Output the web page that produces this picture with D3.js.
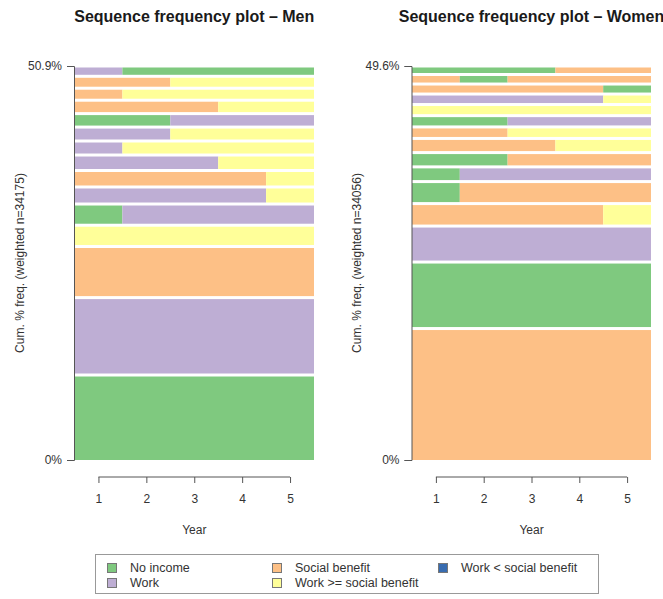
<!DOCTYPE html>
<html>
<head>
<meta charset="utf-8">
<script src="https://cdn.jsdelivr.net/npm/d3@7"></script>
<style>
  body { margin: 0; background: #fff; }
  svg { display: block; font-family: "Liberation Sans", Arial, Helvetica, sans-serif; }
</style>
</head>
<body>
<script>
var years = [1, 2, 3, 4, 5];
var stateCodes = ["NI", "W", "SB", "WS", "WL"];
var stateLabels = ["No income", "Work", "Social benefit", "Work >= social benefit", "Work < social benefit"];
var stateColors = ["#7fc97f", "#beaed4", "#fdc086", "#ffff99", "#386cb0"];

// sequences sorted by frequency, most frequent first (drawn bottom up)
var menSeqs = [
  "NI-NI-NI-NI-NI",
  "W-W-W-W-W",
  "SB-SB-SB-SB-SB",
  "WS-WS-WS-WS-WS",
  "NI-W-W-W-W",
  "W-W-W-W-WS",
  "SB-SB-SB-SB-WS",
  "W-W-W-WS-WS",
  "W-WS-WS-WS-WS",
  "W-W-WS-WS-WS",
  "NI-NI-W-W-W",
  "SB-SB-SB-WS-WS",
  "SB-WS-WS-WS-WS",
  "SB-SB-WS-WS-WS",
  "W-NI-NI-NI-NI",
];
var menFreq = [10.98, 10.0, 6.6, 2.75, 2.74, 2.2, 2.13, 2.0, 1.81, 1.8, 1.74, 1.73, 1.55, 1.54, 1.33];
var menN = 34175;

var womenSeqs = [
  "SB-SB-SB-SB-SB",
  "NI-NI-NI-NI-NI",
  "W-W-W-W-W",
  "SB-SB-SB-SB-WS",
  "NI-SB-SB-SB-SB",
  "NI-W-W-W-W",
  "NI-NI-SB-SB-SB",
  "SB-SB-SB-WS-WS",
  "SB-SB-WS-WS-WS",
  "NI-NI-W-W-W",
  "WS-WS-WS-WS-WS",
  "W-W-W-W-WS",
  "SB-SB-SB-SB-NI",
  "SB-NI-SB-SB-SB",
  "NI-NI-NI-SB-SB",
];
var womenFreq = [16.55, 8.37, 4.53, 2.83, 2.77, 1.85, 1.8, 1.78, 1.45, 1.42, 1.4, 1.32, 1.26, 1.2, 1.07];
var womenN = 34056;

var W = 663, H = 599;
var plotTop = 66, plotBottom = 460;
var textColor = "#333";

var svg = d3.select("body").append("svg")
  .attr("width", W)
  .attr("height", H);

var colorOf = d3.scaleOrdinal().domain(stateCodes).range(stateColors);

function drawPanel(title, seqs, freq, n, left, right, labelX) {
  var total = d3.sum(freq);
  var x = d3.scaleLinear().domain([years[0] - 0.5, years[years.length - 1] + 0.5]).range([left, right]);
  var y = d3.scaleLinear().domain([0, total]).range([plotBottom, plotTop]);
  var g = svg.append("g");

  var cum = 0;
  seqs.forEach(function(s, i) {
    var states = s.split("-");
    var y0 = y(cum);
    var y1 = y(cum + freq[i]);
    cum += freq[i];
    // merge runs of the same state
    var runs = [];
    states.forEach(function(st, k) {
      if(runs.length && runs[runs.length - 1].state === st) {
        runs[runs.length - 1].end = years[k];
      } else {
        runs.push({ state: st, start: years[k], end: years[k] });
      }
    });
    var yTop = y1 + 1.5;
    var yBot = i === 0 ? y0 : y0 - 1.5;
    g.selectAll(null).data(runs).enter().append("rect")
      .attr("x", function(d) { return x(d.start - 0.5); })
      .attr("width", function(d) { return x(d.end + 0.5) - x(d.start - 0.5); })
      .attr("y", yTop)
      .attr("height", Math.max(0.5, yBot - yTop))
      .attr("fill", function(d) { return colorOf(d.state); });
  });

  // y axis
  var yAxis = d3.axisLeft(y)
    .tickValues([0, total])
    .tickSizeOuter(0)
    .tickSize(7)
    .tickPadding(5)
    .tickFormat(function(d) { return d === 0 ? "0%" : d.toFixed(1) + "%"; });
  var ya = g.append("g").attr("transform", "translate(" + (left - 0.5) + ",0)").call(yAxis);
  ya.select(".domain").attr("stroke", "#555");
  ya.selectAll(".tick line").attr("stroke", "#555");
  ya.selectAll(".tick text").attr("fill", textColor).style("font-size", "12px").attr("font-family", null);

  // x axis, line only between first and last tick
  var axisY = 477;
  var xAxis = d3.axisBottom(x).tickValues(years).tickFormat(d3.format("d"))
    .tickSizeOuter(0).tickSize(6).tickPadding(11);
  var xa = g.append("g").attr("transform", "translate(0," + axisY + ")").call(xAxis);
  xa.select(".domain").remove();
  xa.append("line")
    .attr("x1", x(years[0]))
    .attr("x2", x(years[years.length - 1]))
    .attr("stroke", "#555");
  xa.selectAll(".tick line").attr("stroke", "#555");
  xa.selectAll(".tick text").attr("fill", textColor).style("font-size", "12px").attr("font-family", null);

  g.append("text")
    .attr("x", (x(years[0]) + x(years[years.length - 1])) / 2)
    .attr("y", 534)
    .attr("text-anchor", "middle")
    .attr("fill", textColor)
    .style("font-size", "12px")
    .text("Year");

  g.append("text")
    .attr("transform", "translate(" + labelX + "," + ((plotTop + plotBottom) / 2) + ") rotate(-90)")
    .attr("text-anchor", "middle")
    .attr("dy", "0.35em")
    .attr("fill", textColor)
    .style("font-size", "12px")
    .text("Cum. % freq. (weighted n=" + n + ")");

  g.append("text")
    .attr("x", (left + right) / 2)
    .attr("y", 22)
    .attr("text-anchor", "middle")
    .attr("fill", "#1a1a1a")
    .style("font-size", "16px")
    .style("font-weight", "bold")
    .text(title);
} // drawPanel

drawPanel("Sequence frequency plot \u2013 Men", menSeqs, menFreq, menN, 74.5, 314, 20);
drawPanel("Sequence frequency plot \u2013 Women", womenSeqs, womenFreq, womenN, 412, 651, 357);

// legend
var legend = svg.append("g");
legend.append("rect")
  .attr("x", 95.5)
  .attr("y", 554.5)
  .attr("width", 503)
  .attr("height", 39)
  .attr("fill", "none")
  .attr("stroke", "#999");

var colX = [107, 272, 438];
var rowY = [568, 583];
// R fills the legend column by column, two rows each
var items = stateLabels.map(function(lab, i) {
  return { label: lab, color: stateColors[i], col: Math.floor(i / 2), row: i % 2 };
});
var it = legend.selectAll("g.item").data(items).enter().append("g")
  .attr("class", "item")
  .attr("transform", function(d) { return "translate(" + colX[d.col] + "," + rowY[d.row] + ")"; });
it.append("rect")
  .attr("x", 0.5)
  .attr("y", -4.5)
  .attr("width", 9)
  .attr("height", 9)
  .attr("fill", function(d) { return d.color; })
  .attr("stroke", "#777");
it.append("text")
  .attr("x", 23)
  .attr("dy", "0.35em")
  .attr("fill", textColor)
  .style("font-size", "12.5px")
  .text(function(d) { return d.label; });
</script>
</body>
</html>
